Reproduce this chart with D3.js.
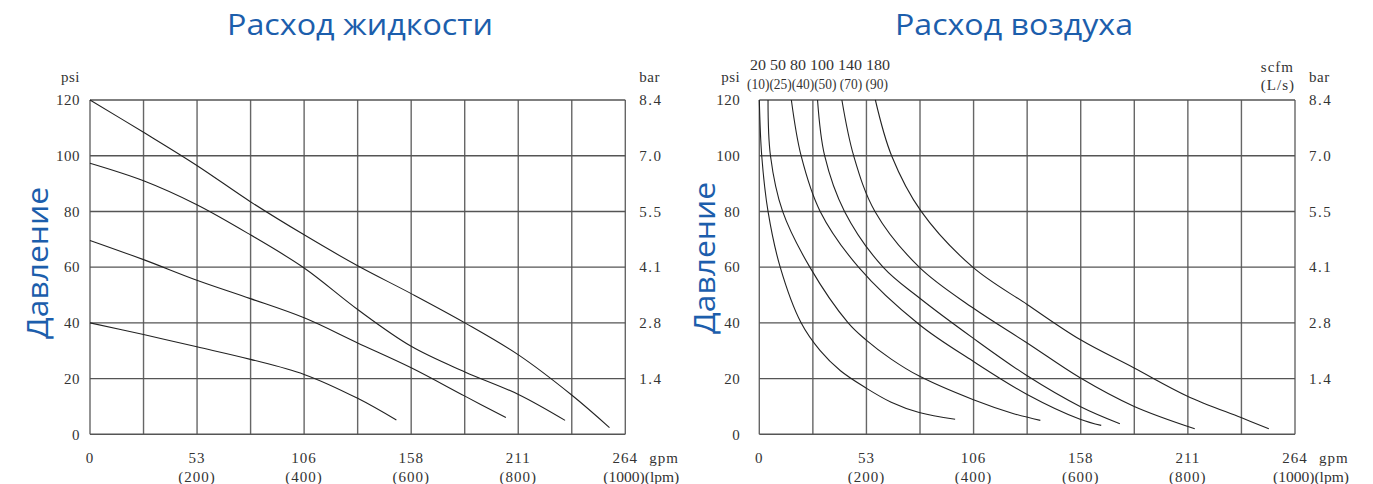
<!DOCTYPE html>
<html><head><meta charset="utf-8">
<script src="https://cdn.jsdelivr.net/npm/d3@7"></script>
<style>
html,body{margin:0;padding:0;background:#fff;}
svg{display:block;}
.tk{font-family:"Liberation Serif",serif;font-size:15px;fill:#333;}
.ttl{font-family:"Open Sans",sans-serif;fill:#1c5eac;}
</style></head>
<body>
<svg id="c" width="1373" height="484"></svg>
<script>
// ---------- data ----------
const titles = ["Расход жидкости", "Расход воздуха"];
const yTitle = "Давление";
const psiTicks = [0, 20, 40, 60, 80, 100, 120];
const barTicks = ["", "1.4", "2.8", "4.1", "5.5", "7.0", "8.4"];
const lpmTicks = [0, 200, 400, 600, 800, 1000];
const gpmTicks = ["0", "53", "106", "158", "211", "264"];
const scfmLabels = ["20", "50", "80", "100", "140", "180"];
const lpsLabels = ["(10)", "(25)", "(40)", "(50)", "(70)", "(90)"];

// Fluid flow curves: [gpm, psi]
const fluid1 = [[0,120],[26.4,108.4],[52.7,96.5],[79.1,83.5],[105.6,71.6],[132,60.5],[158.4,50.5],[184.9,40],[211.3,28.5],[237.7,14],[256.2,2.4]];
const fluid2 = [[0,97.3],[26.4,91],[52.7,82.4],[79.1,71.6],[105.6,59.7],[132,44.8],[158.4,31.6],[184.9,22.4],[211.3,14.3],[234.3,5]];
const fluid3 = [[0,69.6],[26.4,62.7],[52.7,55.3],[79.1,48.7],[105.6,41.8],[132,32.8],[158.4,23.9],[184.9,13.7],[205.1,6]];
const fluid4 = [[0,40],[26.4,35.8],[52.7,31.4],[79.1,26.9],[105.6,21.5],[132,12.9],[151.1,5.1]];

// Air consumption curves: [gpm, psi]
const air20  = [[0,120],[1.2,100],[4.3,80],[10.3,60],[20.6,40],[30,30],[40,22.8],[52.4,16.7],[65,11.5],[78.8,7.8],[96.5,5.4]];
const air50  = [[4.3,120],[5.5,100],[11.5,80],[24.9,60],[43.8,40],[52.4,34],[65,27],[78.8,20.9],[105.2,12.5],[125,7.5],[138.5,5]];
const air80  = [[15.8,120],[20.6,100],[30,80],[48.9,60],[78.8,39.4],[105.2,26.3],[132,14.3],[158.1,5.4],[168.5,3.2]];
const air100 = [[28.7,120],[32.2,100],[42,80],[61,60],[78.8,49],[105.2,34.6],[132,21],[158.1,10],[177.7,3.8]];
const air140 = [[40.7,120],[46.5,100],[57,80],[78.8,60],[105.2,45.4],[132,32.8],[158.1,20.3],[184.5,10.1],[214.6,2]];
const air180 = [[57.2,120],[65.2,100],[79.8,80],[105.2,60],[132,46.6],[158.1,34],[184.5,23.9],[211,13.7],[237.4,6],[251.1,2]];

const fluidCurves = [fluid1, fluid2, fluid3, fluid4];
const airCurves = [air20, air50, air80, air100, air140, air180];

// ---------- drawing ----------
const svg = d3.select("#c");
const gpmPerLpm = 0.264;

function panel(x0, x1, curves, opt) {
  const x = d3.scaleLinear().domain([0, 1000 * gpmPerLpm]).range([x0, x1]);
  const y = d3.scaleLinear().domain([0, 120]).range([434.3, 100]);
  const g = svg.append("g");
  // grid
  const vx = d3.range(0, 11).map(i => i * 100 * gpmPerLpm);
  g.selectAll(".vg").data(vx).enter().append("line")
    .attr("x1", d => x(d)).attr("x2", d => x(d)).attr("y1", y(0)).attr("y2", y(120))
    .attr("stroke", "#666").attr("stroke-width", 1.4);
  g.selectAll(".hg").data(psiTicks).enter().append("line")
    .attr("x1", x(0)).attr("x2", x(264)).attr("y1", d => y(d)).attr("y2", d => y(d))
    .attr("stroke", "#555").attr("stroke-width", 1.4);
  // curves
  const line = d3.line().x(d => x(d[0])).y(d => y(d[1])).curve(d3.curveCatmullRom.alpha(0.5));
  g.selectAll(".cv").data(curves).enter().append("path")
    .attr("d", line).attr("fill", "none").attr("stroke", "#222").attr("stroke-width", 1.1);
  // left ticks
  g.selectAll(".yl").data(psiTicks).enter().append("text").attr("class", "tk")
    .attr("x", x0 - opt.gap).attr("y", d => y(d)).attr("dy", "0.35em").attr("text-anchor", "end")
    .attr("letter-spacing", "0.5").text(d => d);
  g.append("text").attr("class", "tk").attr("x", x0 - opt.gap).attr("y", 77).attr("dy", "0.35em")
    .attr("text-anchor", "end").attr("letter-spacing", "0.5").text("psi");
  // right ticks
  g.selectAll(".yr").data(psiTicks).enter().append("text").attr("class", "tk")
    .attr("x", x1 + 14).attr("y", d => y(d)).attr("dy", "0.35em").attr("letter-spacing", "1.5")
    .text((d, i) => barTicks[i]);
  g.append("text").attr("class", "tk").attr("x", x1 + 14).attr("y", 77).attr("dy", "0.35em")
    .attr("letter-spacing", "0.5").text("bar");
  // bottom ticks
  lpmTicks.forEach((l, i) => {
    g.append("text").attr("class", "tk").attr("x", x(l * gpmPerLpm)).attr("y", 458).attr("dy", "0.35em")
      .attr("text-anchor", "middle").attr("letter-spacing", "1").text(gpmTicks[i]);
    if (l > 0 && l < 1000) {
      g.append("text").attr("class", "tk").attr("y", 477).attr("dy", "0.35em").text("(" + l + ")")
        .attr("x", x(l * gpmPerLpm)).attr("text-anchor", "middle").attr("letter-spacing", "1");
    }
  });
  const last = lpmTicks[lpmTicks.length - 1];
  g.append("text").attr("class", "tk").attr("x", x(last * gpmPerLpm) - 22).attr("y", 477).attr("dy", "0.35em")
    .attr("textLength", 76).attr("lengthAdjust", "spacingAndGlyphs").text("(" + last + ")(lpm)");
  g.append("text").attr("class", "tk").attr("x", x1 + 24).attr("y", 458).attr("dy", "0.35em")
    .attr("letter-spacing", "1").text("gpm");
  // titles
  g.append("text").attr("class", "ttl").attr("x", opt.tx).attr("y", 35).attr("text-anchor", "middle")
    .attr("font-size", 29).attr("textLength", opt.tw).attr("lengthAdjust", "spacingAndGlyphs").text(opt.title);
  g.append("text").attr("class", "ttl").attr("font-size", 30).attr("text-anchor", "middle")
    .attr("textLength", 152).attr("lengthAdjust", "spacingAndGlyphs")
    .attr("transform", `translate(${opt.yx},${opt.yy}) rotate(-90)`).text(yTitle);
  return x;
}

panel(90, 625.3, fluidCurves, {title: titles[0], tx: 360, tw: 266, yx: 48, yy: 263, gap: 10});
panel(759.3, 1295, airCurves, {title: titles[1], tx: 1014, tw: 238, yx: 715, yy: 258, gap: 19});

// air curve labels (scfm / L/s)
svg.append("text").attr("class", "tk").attr("x", 750).attr("y", 65).attr("dy", "0.35em")
  .attr("textLength", 140).attr("lengthAdjust", "spacingAndGlyphs").text(scfmLabels.join(" "));
svg.append("text").attr("class", "tk").attr("x", 747).attr("y", 84).attr("dy", "0.35em")
  .attr("textLength", 141).attr("lengthAdjust", "spacingAndGlyphs")
  .text(lpsLabels.slice(0, 4).join("") + " " + lpsLabels.slice(4).join(" "));
svg.append("text").attr("class", "tk").attr("x", 1294).attr("y", 67).attr("dy", "0.35em")
  .attr("text-anchor", "end").attr("letter-spacing", "1").text("scfm");
svg.append("text").attr("class", "tk").attr("x", 1295).attr("y", 85).attr("dy", "0.35em")
  .attr("text-anchor", "end").attr("letter-spacing", "1").text("(L/s)");
</script>
</body></html>
